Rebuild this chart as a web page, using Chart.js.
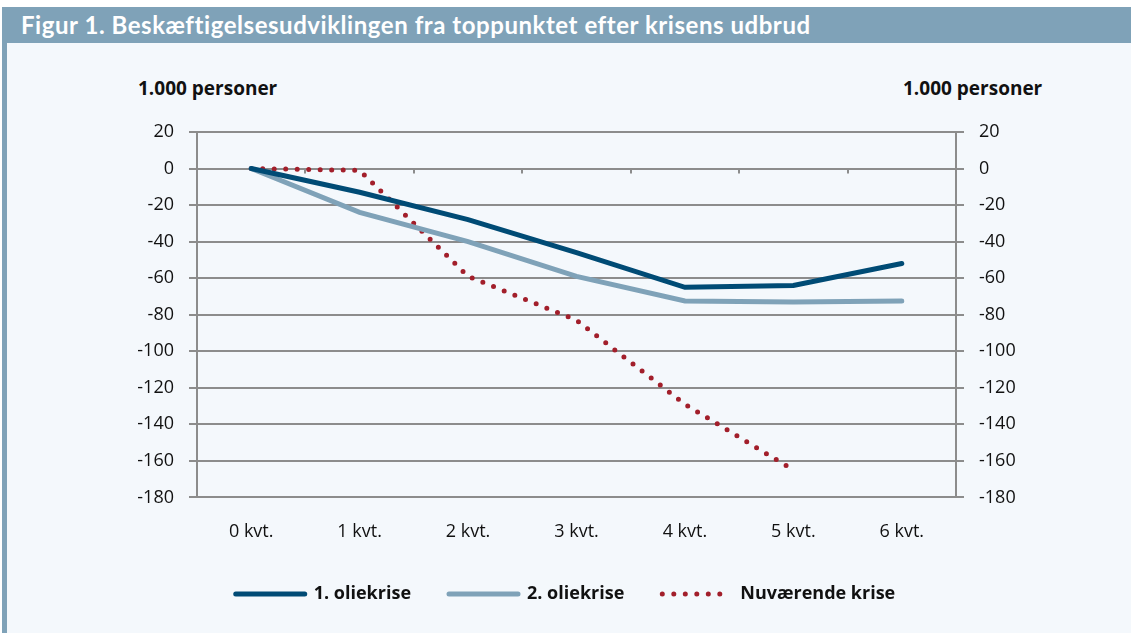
<!DOCTYPE html>
<html>
<head>
<meta charset="utf-8">
<script src="https://cdn.jsdelivr.net/npm/chart.js@4"></script>
<style>
  body { margin: 0; background: #fff; font-family: "Open Sans", sans-serif; }
  #bar { position: absolute; left: 2px; top: 7px; width: 1129px; height: 36px; background: #7fa2b8; }
  #bar span { position: absolute; left: 19px; top: 3px; color: #fff; font-family: Lato, sans-serif; font-weight: bold; font-size: 24px; letter-spacing: 0.55px; }
  #box { position: absolute; left: 2px; top: 43px; width: 1129px; height: 590px; background: #f4f8fc; border-left: 5px solid #7fa2b8; box-sizing: border-box; }
  #wrap { position: absolute; left: 0; top: 43px; width: 1131px; height: 590px; }
  .unit { position: absolute; top: 75px; font-size: 19px; font-weight: bold; color: #111; }
</style>
</head>
<body>
<div id="bar"><span>Figur 1. Beskæftigelsesudviklingen fra toppunktet efter krisens udbrud</span></div>
<div id="box"></div>
<div class="unit" style="left:138px">1.000 personer</div>
<div class="unit" style="left:903px">1.000 personer</div>
<div id="wrap"><canvas id="c" width="1131" height="590"></canvas></div>
<script>
const categories = ['0 kvt.', '1 kvt.', '2 kvt.', '3 kvt.', '4 kvt.', '5 kvt.', '6 kvt.'];
const olie1 = [0, -13, -28, -46, -65, -64, -52];
const olie2 = [0, -24, -40, -59, -72.5, -73, -72.5];
const nu = [0, -1, -59, -83, -129, -165, null];
const yTicks = [20, 0, -20, -40, -60, -80, -100, -120, -140, -160, -180];

const grey = '#8c8c8c';
const font = { family: 'Open Sans', size: 18 };

// small tick marks on the zero line between categories
const zeroTicks = {
  id: 'zeroTicks',
  afterDraw(chart) {
    const x = chart.scales.x, y = chart.scales.y;
    const y0 = y.getPixelForValue(0);
    const ctx = chart.ctx;
    ctx.save();
    ctx.strokeStyle = grey;
    ctx.lineWidth = 2;
    for (let i = 0; i <= categories.length; i++) {
      const px = Math.round(x.getPixelForValue(i - 0.5));
      ctx.beginPath();
      ctx.moveTo(px, y0);
      ctx.lineTo(px, y0 + 5);
      ctx.stroke();
    }
    ctx.restore();
  }
};

new Chart(document.getElementById('c'), {
  type: 'line',
  data: {
    labels: categories,
    datasets: [
      { label: '1. oliekrise', data: olie1, borderColor: '#004b75', backgroundColor: '#004b75', borderWidth: 5, pointRadius: 0, borderCapStyle: 'round', tension: 0 },
      { label: '2. oliekrise', data: olie2, borderColor: '#7fa2b8', backgroundColor: '#7fa2b8', borderWidth: 5, pointRadius: 0, borderCapStyle: 'round', tension: 0 },
      { label: 'Nuværende krise', data: nu, borderColor: '#a21f2b', backgroundColor: '#a21f2b', borderWidth: 5, borderDash: [0, 11.5], borderCapStyle: 'round', pointRadius: 0, tension: 0 }
    ]
  },
  options: {
    responsive: false,
    animation: false,
    layout: { padding: { top: 89, bottom: 20, left: 0, right: 0 } },
    scales: {
      x: {
        offset: true,
        afterFit: s => { s.height -= 20; },
        grid: { display: false, drawTicks: false },
        border: { display: false },
        ticks: { color: '#111', font, padding: 24 }
      },
      y: {
        position: 'left',
        min: -180, max: 20,
        afterFit: s => { s.width = 197; },
        afterBuildTicks: s => { s.ticks = yTicks.map(v => ({ value: v })); },
        grid: { color: grey, lineWidth: 2, tickLength: 8 },
        border: { color: grey, width: 2 },
        ticks: { color: '#111', font, padding: 15 }
      },
      y2: {
        position: 'right',
        min: -180, max: 20,
        afterFit: s => { s.width = 175; },
        afterBuildTicks: s => { s.ticks = yTicks.map(v => ({ value: v })); },
        grid: { drawOnChartArea: false, color: grey, lineWidth: 2, tickLength: 8 },
        border: { color: grey, width: 2 },
        ticks: { color: '#111', font, padding: 15 }
      }
    },
    plugins: {
      legend: {
        position: 'bottom',
        labels: {
          usePointStyle: true,
          pointStyle: 'line',
          pointStyleWidth: 69,
          boxHeight: 18,
          padding: 38,
          color: '#111',
          font: { family: 'Open Sans', size: 18, weight: 'bold' },
          generateLabels: chart => {
            const items = Chart.defaults.plugins.legend.labels.generateLabels(chart);
            items.forEach(it => {
              const ds = chart.data.datasets[it.datasetIndex];
              it.lineDash = ds.borderDash || [];
              it.lineCap = 'round';
              it.lineWidth = ds.borderWidth;
            });
            return items;
          }
        }
      },
      tooltip: { enabled: false }
    }
  },
  plugins: [zeroTicks]
});
</script>
</body>
</html>
